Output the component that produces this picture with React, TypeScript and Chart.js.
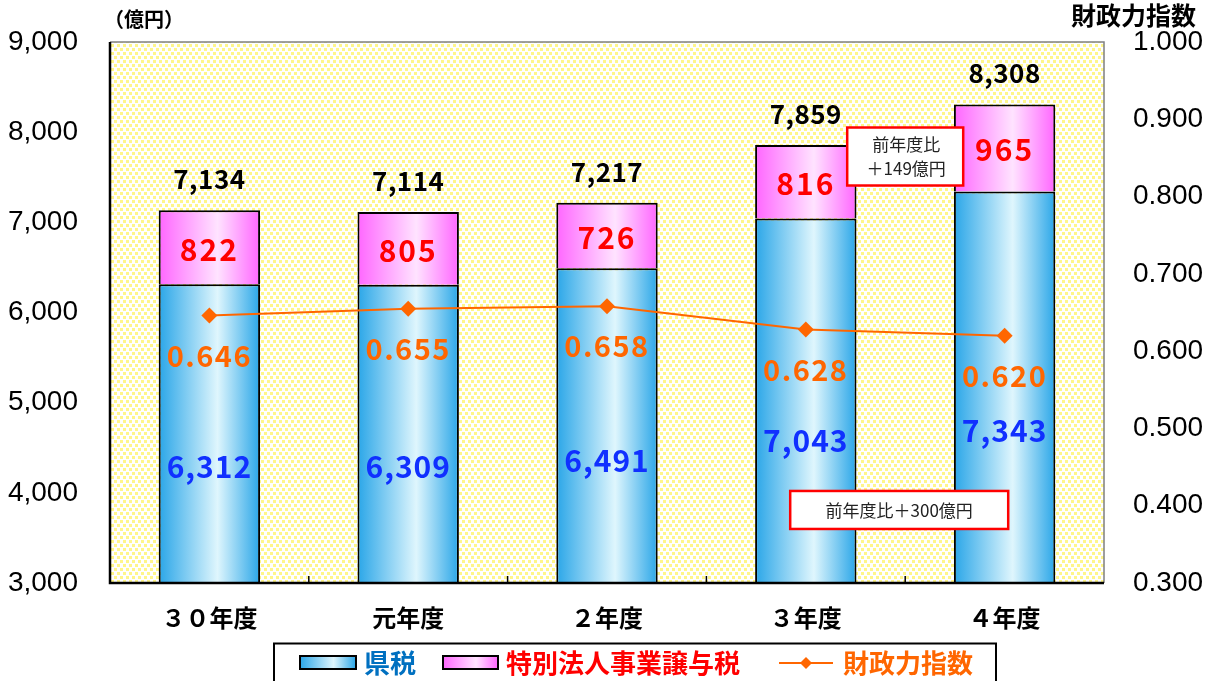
import React, { useEffect, useRef } from "react";
import { Chart, registerables } from "chart.js";

Chart.register(...registerables);

const categories = ["３０年度", "元年度", "２年度", "３年度", "４年度"];
const prefTax = [6312, 6309, 6491, 7043, 7343];
const specialTax = [822, 805, 726, 816, 965];
const fiscalIndex = [0.646, 0.655, 0.658, 0.628, 0.62];
const legendNames = ["県税", "特別法人事業譲与税", "財政力指数"];
const noteSmall = ["前年度比", "＋149億円"];
const noteLarge = "前年度比＋300億円";

const JP = '"Noto Sans CJK JP", "Noto Sans", sans-serif';
const NUM = '"Liberation Sans", Arial, sans-serif';
const BAR_PCT = 0.51;

function makePattern(ctx: CanvasRenderingContext2D) {
  const c = document.createElement("canvas");
  c.width = 6;
  c.height = 8;
  const g = c.getContext("2d")!;
  g.fillStyle = "#ffffff";
  g.fillRect(0, 0, 6, 8);
  g.fillStyle = "#fff68a";
  g.fillRect(0, 0, 3, 3);
  g.fillRect(3, 4, 3, 3);
  return ctx.createPattern(c, "repeat")!;
}

function barGradient(ctx: any, edge: string, mid: string) {
  const chart = ctx.chart;
  const area = chart.chartArea;
  if (!area) return edge;
  const xs = chart.scales.x;
  const cw = (area.right - area.left) / categories.length;
  const w = cw * BAR_PCT;
  const cx = xs.getPixelForValue(ctx.dataIndex);
  const g = chart.ctx.createLinearGradient(cx - w / 2, 0, cx + w / 2, 0);
  g.addColorStop(0, edge);
  g.addColorStop(0.58, mid);
  g.addColorStop(1, edge);
  return g;
}

function text(
  ctx: CanvasRenderingContext2D,
  s: string,
  x: number,
  y: number,
  font: string,
  color: string,
  align: CanvasTextAlign = "center",
  spacing = "0px"
) {
  ctx.font = font;
  ctx.fillStyle = color;
  ctx.textAlign = align;
  ctx.textBaseline = "middle";
  (ctx as any).letterSpacing = spacing;
  ctx.fillText(s, x, y);
  (ctx as any).letterSpacing = "0px";
}

const decoPlugin = {
  id: "deco",
  beforeDatasetsDraw(chart: any) {
    const { ctx, chartArea: a } = chart;
    ctx.save();
    ctx.fillStyle = makePattern(ctx);
    ctx.fillRect(a.left, a.top, a.right - a.left, a.bottom - a.top);
    ctx.restore();
  },
  afterDatasetsDraw(chart: any) {
    const { ctx, chartArea: a } = chart;
    const xs = chart.scales.x;
    const y = chart.scales.y;
    const y1 = chart.scales.y1;
    ctx.save();

    // plot frame
    ctx.strokeStyle = "#808080";
    ctx.lineWidth = 1.5;
    ctx.beginPath();
    ctx.moveTo(a.left, a.top);
    ctx.lineTo(a.right, a.top);
    ctx.lineTo(a.right, a.bottom);
    ctx.stroke();
    ctx.strokeStyle = "#000";
    ctx.lineWidth = 2.5;
    ctx.beginPath();
    ctx.moveTo(a.left, a.top);
    ctx.lineTo(a.left, a.bottom);
    ctx.lineTo(a.right, a.bottom);
    ctx.stroke();
    // category tick marks
    ctx.lineWidth = 1.5;
    for (let i = 0; i < categories.length - 1; i++) {
      const bx = (xs.getPixelForValue(i) + xs.getPixelForValue(i + 1)) / 2;
      ctx.beginPath();
      ctx.moveTo(bx, a.bottom);
      ctx.lineTo(bx, a.bottom - 7);
      ctx.stroke();
    }

    // data labels
    for (let i = 0; i < categories.length; i++) {
      const cx = xs.getPixelForValue(i);
      const pTop = y.getPixelForValue(prefTax[i]);
      const total = prefTax[i] + specialTax[i];
      const tTop = y.getPixelForValue(total);
      text(ctx, prefTax[i].toLocaleString("en-US"), cx, a.bottom - 0.39 * (a.bottom - pTop), `bold 30px ${JP}`, "#1030ff", "center", "1px");
      text(ctx, String(specialTax[i]), cx, (pTop + tTop) / 2 + 2, `bold 30px ${JP}`, "#ff0000", "center", "2px");
      text(ctx, total.toLocaleString("en-US"), cx, tTop - 31, `bold 26px ${JP}`, "#000", "center", "0.5px");
      const py = y1.getPixelForValue(fiscalIndex[i]);
      text(ctx, fiscalIndex[i].toFixed(3), cx, py + 40, `bold 29px ${JP}`, "#ff6600", "center", "1.5px");
    }

    // annotation boxes
    const midX = (xs.getPixelForValue(3) + xs.getPixelForValue(4)) / 2;
    const b1y = y.getPixelForValue(7730);
    ctx.fillStyle = "#fff";
    ctx.strokeStyle = "#ff0000";
    ctx.lineWidth = 2.5;
    ctx.fillRect(midX - 58, b1y - 29, 116, 58);
    ctx.strokeRect(midX - 58, b1y - 29, 116, 58);
    text(ctx, noteSmall[0], midX + 1, b1y - 12, `17px ${JP}`, "#222");
    text(ctx, noteSmall[1], midX + 1, b1y + 12, `17px ${JP}`, "#222");
    const b2x = midX - 6;
    const b2y = y.getPixelForValue(3810);
    ctx.fillStyle = "#fff";
    ctx.fillRect(b2x - 109, b2y - 19, 218, 38);
    ctx.strokeRect(b2x - 109, b2y - 19, 218, 38);
    text(ctx, noteLarge, b2x, b2y + 1, `17px ${JP}`, "#222");

    // axis titles
    text(ctx, "（億円）", 104, 19, `bold 20px ${JP}`, "#000", "left");
    text(ctx, "財政力指数", 1196, 15, `bold 25px ${JP}`, "#000", "right");

    // legend
    ctx.strokeStyle = "#000";
    ctx.lineWidth = 2;
    ctx.strokeRect(274, 643.5, 722, 40);
    const ly = 663;
    const lg1 = ctx.createLinearGradient(300, 0, 356, 0);
    lg1.addColorStop(0, "#2aa6e8");
    lg1.addColorStop(0.6, "#dff6fd");
    lg1.addColorStop(1, "#2aa6e8");
    ctx.fillStyle = lg1;
    ctx.fillRect(300, 656, 56, 13);
    ctx.strokeRect(300, 656, 56, 13);
    text(ctx, legendNames[0], 364, ly, `bold 26px ${JP}`, "#0070c0", "left");
    const lg2 = ctx.createLinearGradient(443, 0, 498, 0);
    lg2.addColorStop(0, "#ff66ff");
    lg2.addColorStop(0.6, "#ffe3ff");
    lg2.addColorStop(1, "#ff66ff");
    ctx.fillStyle = lg2;
    ctx.fillRect(443, 656, 55, 13);
    ctx.strokeRect(443, 656, 55, 13);
    text(ctx, legendNames[1], 506, ly, `bold 26px ${JP}`, "#ff0000", "left");
    ctx.strokeStyle = "#ff6600";
    ctx.lineWidth = 2;
    ctx.beginPath();
    ctx.moveTo(779, ly);
    ctx.lineTo(833, ly);
    ctx.stroke();
    ctx.fillStyle = "#ff6600";
    ctx.beginPath();
    ctx.moveTo(806, ly - 6);
    ctx.lineTo(812, ly);
    ctx.lineTo(806, ly + 6);
    ctx.lineTo(800, ly);
    ctx.closePath();
    ctx.fill();
    text(ctx, legendNames[2], 843, ly, `bold 26px ${JP}`, "#ff6600", "left");

    ctx.restore();
  },
};

export default function App() {
  const ref = useRef<HTMLCanvasElement>(null);
  useEffect(() => {
    const hiddenGrid = {
      display: true,
      drawOnChartArea: false,
      drawTicks: true,
      color: "rgba(0,0,0,0)",
    };
    const chart = new Chart(ref.current!, {
      type: "bar",
      data: {
        labels: categories,
        datasets: [
          {
            type: "line",
            label: legendNames[2],
            data: fiscalIndex,
            yAxisID: "y1",
            borderColor: "#ff6600",
            backgroundColor: "#ff6600",
            borderWidth: 2,
            pointStyle: "rectRot",
            pointRadius: 8,
            pointBorderWidth: 0,
            order: 0,
          } as any,
          {
            label: legendNames[0],
            data: prefTax,
            yAxisID: "y",
            stack: "s",
            backgroundColor: (c: any) => barGradient(c, "#2aa6e8", "#dff6fd"),
            borderColor: "#000",
            borderWidth: 2,
            borderSkipped: false,
            barPercentage: BAR_PCT,
            categoryPercentage: 1,
            order: 1,
          },
          {
            label: legendNames[1],
            data: specialTax,
            yAxisID: "y",
            stack: "s",
            backgroundColor: (c: any) => barGradient(c, "#ff66ff", "#ffe3ff"),
            borderColor: "#000",
            borderWidth: 2,
            borderSkipped: "start",
            barPercentage: BAR_PCT,
            categoryPercentage: 1,
            order: 2,
          },
        ],
      },
      options: {
        animation: false,
        responsive: true,
        maintainAspectRatio: false,
        layout: { padding: { top: 42, left: 0, right: 0, bottom: 0 } },
        plugins: { legend: { display: false }, tooltip: { enabled: false } },
        scales: {
          x: {
            stacked: true,
            offset: true,
            grid: { display: false, drawTicks: false },
            border: { display: false },
            ticks: {
              color: "#000",
              font: { family: JP, size: 24, weight: "bold" },
              padding: 20,
              maxRotation: 0,
            },
            afterFit: (s: any) => {
              s.height = 98;
            },
          },
          y: {
            stacked: true,
            position: "left",
            min: 3000,
            max: 9000,
            grid: { ...hiddenGrid, tickLength: 30 },
            border: { display: false },
            ticks: {
              stepSize: 1000,
              color: "#000",
              font: { family: NUM, size: 28 },
              padding: 2,
              callback: (v: any) => Number(v).toLocaleString("en-US"),
            },
            afterFit: (s: any) => {
              s.width = 110;
            },
          },
          y1: {
            position: "right",
            min: 0.3,
            max: 1.0,
            grid: { ...hiddenGrid, tickLength: 27 },
            border: { display: false },
            ticks: {
              stepSize: 0.1,
              color: "#000",
              font: { family: NUM, size: 28 },
              padding: 2,
              callback: (v: any) => Number(v).toFixed(3),
            },
            afterFit: (s: any) => {
              s.width = 117;
            },
          },
        },
      },
      plugins: [decoPlugin],
    });
    return () => chart.destroy();
  }, []);
  return (
    <div style={{ position: "fixed", left: 0, top: 0, width: 1221, height: 681, background: "#fff" }}>
      <canvas ref={ref} />
    </div>
  );
}
